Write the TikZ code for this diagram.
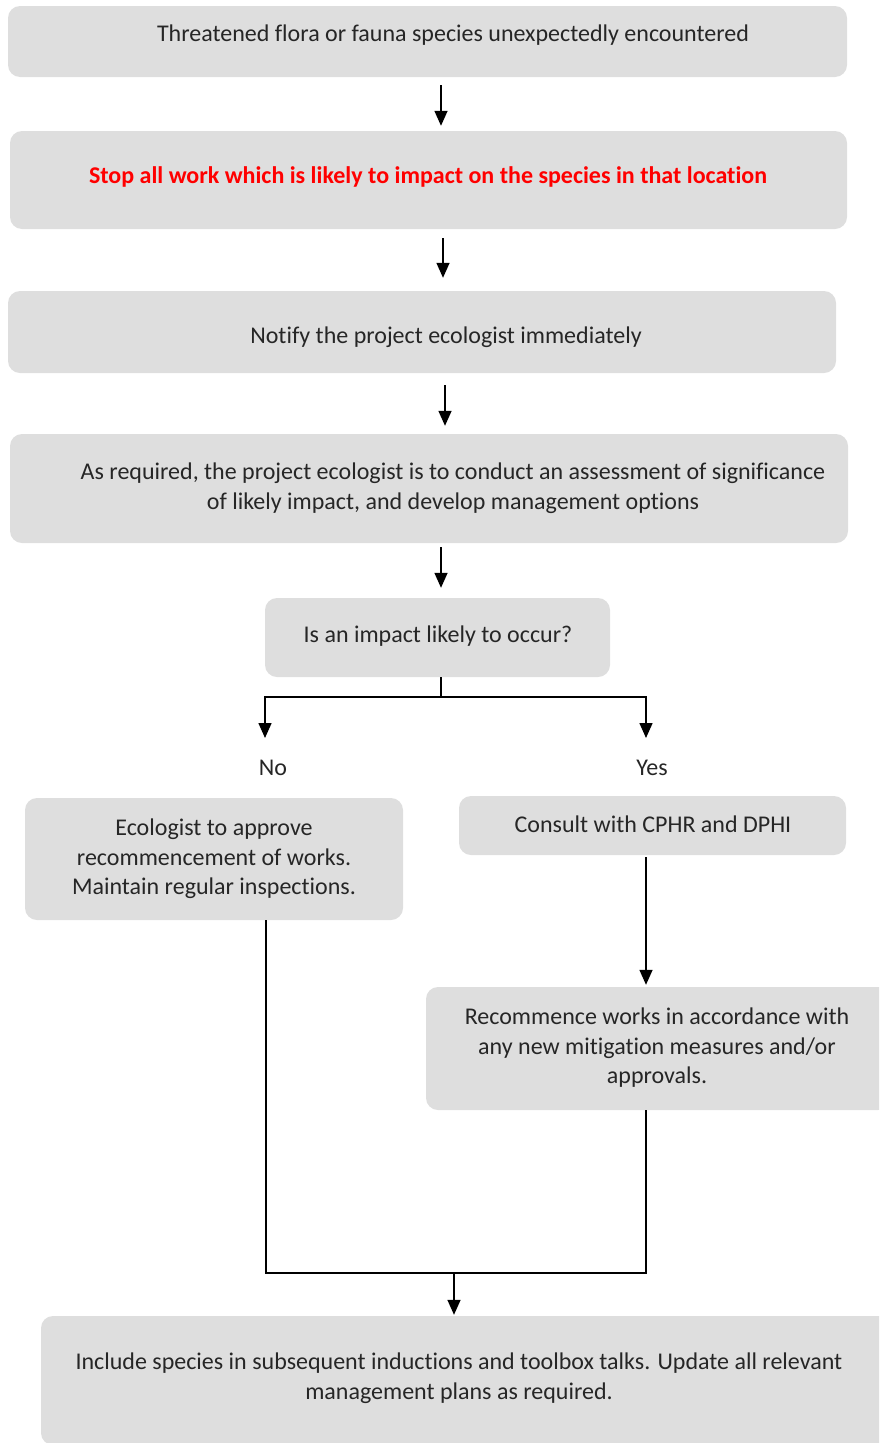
\documentclass[tikz,border=0pt]{standalone}
\usepackage{fontspec}
\setmainfont{Carlito}[Ligatures=NoCommon]
\usepackage{tikz}
\usetikzlibrary{arrows.meta,positioning}

\definecolor{boxgrey}{HTML}{DEDEDE}
\definecolor{textgrey}{HTML}{262626}
\definecolor{alertred}{HTML}{FF0000}

\begin{document}
\begin{tikzpicture}[x=1pt, y=-1pt,
    box/.style={fill=boxgrey, rounded corners=12pt, inner sep=0pt},
    txt/.style={text=textgrey, align=center, inner sep=0pt,
      font=\fontsize{24}{29.5}\selectfont},
    line/.style={draw=black, line width=1.5pt},
    arr/.style={line, -{Triangle[width=13pt, length=15pt]}}]
  \clip (0,0) rectangle (879,1443);
  \useasboundingbox (0,0) rectangle (879,1443);

  % Boxes
  \node[box, minimum width=839, minimum height=71] (b1) at (427.5,41.5) {};
  \node[box, minimum width=837, minimum height=98] (b2) at (428.5,180) {};
  \node[box, minimum width=828, minimum height=82] (b3) at (422,332) {};
  \node[box, minimum width=838, minimum height=109] (b4) at (429,488.5) {};
  \node[box, minimum width=345, minimum height=79] (b5) at (437.5,637.5) {};
  \node[box, minimum width=378, minimum height=122] (b6) at (214,859) {};
  \node[box, minimum width=387, minimum height=59] (b7) at (652.5,825.5) {};
  \node[box, minimum width=464, minimum height=123] (b8) at (658,1048.5) {};
  \node[box, minimum width=854, minimum height=129] (b9) at (468,1380.5) {};

  % Texts
  \node[txt] (t1) at (453,35) {Threatened flora or fauna species unexpectedly encountered};
  \node[txt, text=alertred, font=\fontsize{24}{29.5}\selectfont\bfseries] (t2) at (428,177)
    {Stop all work which is likely to impact on the species in that location};
  \node[txt] (t3) at (446,337) {Notify the project ecologist immediately};
  \node[txt] (t4) at (453,488) {As required, the project ecologist is to conduct an assessment of significance\\
    of likely impact, and develop management options};
  \node[txt] (t5) at (438,636) {Is an impact likely to occur?};
  \node[txt] (no) at (273,768) {No};
  \node[txt] (yes) at (652,768) {Yes};
  \node[txt] (t6) at (214,859) {Ecologist to approve\\ recommencement of works.\\ Maintain regular inspections.};
  \node[txt] (t7) at (653,824) {Consult with CPHR and DPHI};
  \node[txt] (t8) at (657,1048) {Recommence works in accordance with\\ any new mitigation measures and/or\\ approvals.};
  \node[txt] (t9) at (459,1378) {Include species in subsequent inductions and toolbox talks. Update all relevant\\
    management plans as required.};

  % Main chain
  \draw[arr, shorten <=8pt, shorten >=5pt] ([xshift=13.5]b1.south) -- ([xshift=13.5]b1.south |- b2.north);
  \draw[arr, shorten <=9pt, shorten >=13pt] ([xshift=14.5]b2.south) -- ([xshift=14.5]b2.south |- b3.north);
  \draw[arr, shorten <=12pt, shorten >=8pt] ([xshift=23]b3.south) -- ([xshift=23]b3.south |- b4.north);
  \draw[arr, shorten <=4pt, shorten >=10pt] ([xshift=12]b4.south) -- ([xshift=12]b4.south |- b5.north);

  % Decision split
  \coordinate (split) at (441,697);
  \coordinate (noend) at (265,738);
  \coordinate (yesend) at (646,738);
  \draw[line] ([xshift=3.5]b5.south) -- (split);
  \draw[arr] (split) -| (noend);
  \draw[arr] (split) -| (yesend);

  % Yes branch
  \draw[arr, shorten <=2pt, shorten >=2pt] ([xshift=-6.5]b7.south) -- ([xshift=-6.5]b7.south |- b8.north);

  % Merge
  \coordinate (join) at (454,1273);
  \draw[line] ([xshift=52]b6.south) |- (join);
  \draw[line] ([xshift=-12]b8.south) |- (join);
  \draw[arr, shorten >=1pt] (join) -- (join |- b9.north);

\end{tikzpicture}
\end{document}
